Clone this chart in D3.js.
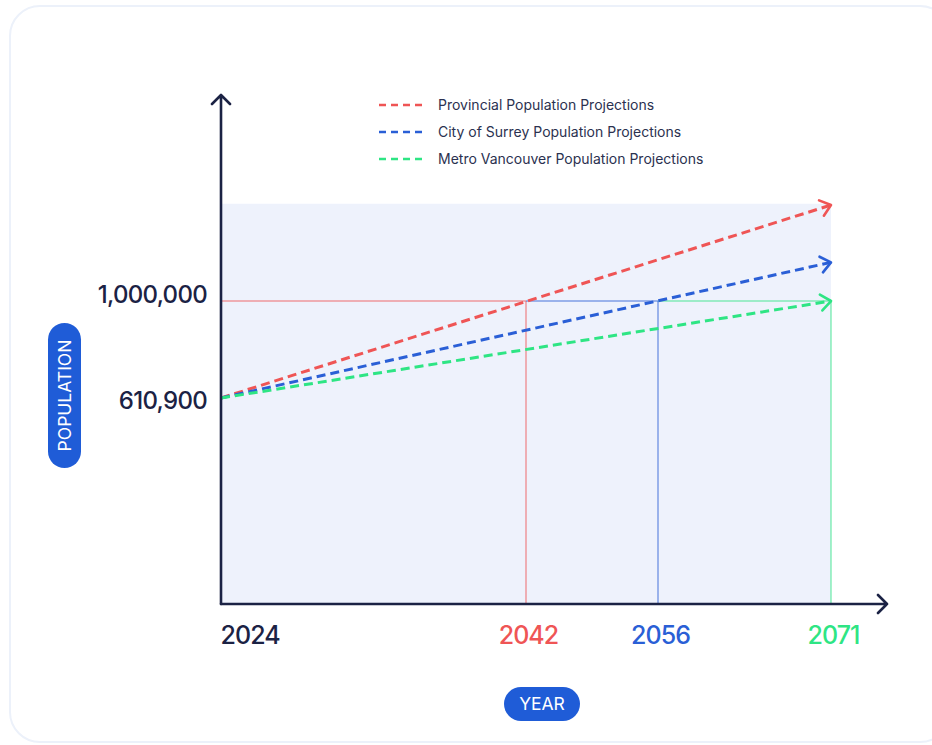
<!DOCTYPE html>
<html>
<head>
<meta charset="utf-8">
<script src="https://cdn.jsdelivr.net/npm/d3@7"></script>
<style>
  html, body { margin: 0; padding: 0; background: #fff; }
  svg { display: block; font-family: Inter, "Noto Sans", sans-serif; }
</style>
</head>
<body>
<svg id="chart" width="932" height="745"></svg>
<script>
// data
const seriesNames = ["Provincial Population Projections", "City of Surrey Population Projections", "Metro Vancouver Population Projections"];
const seriesColors = ["#ef5555", "#2a5fd6", "#2ee584"];
const startYear = 2024;
const endYear = 2071;
const startPop = 610900;
const endPop = [1385000, 1155000, 1000000];
const targetPop = 1000000;
const targetYears = [2042, 2056, 2071];   // year each series reaches 1,000,000
const shadeTop = 1390000;

const ink = "#1b2244";
const pillBlue = "#1f5cd7";

const svg = d3.select("#chart");

// card behind everything
svg.append("rect")
  .attr("x", 10).attr("y", 6)
  .attr("width", 940).attr("height", 736)
  .attr("rx", 30)
  .attr("fill", "#fff")
  .attr("stroke", "#ecf1fa")
  .attr("stroke-width", 2);

// scales -- the original is hand drawn, so both are piecewise
const x = d3.scaleLinear()
  .domain([startYear, ...targetYears])
  .range([221, 526, 658, 831]);
const y = d3.scaleLinear()
  .domain([0, startPop, targetPop])
  .range([604, 398, 301]);

// shaded area
svg.append("rect")
  .attr("x", x(startYear))
  .attr("y", y(shadeTop))
  .attr("width", x(endYear) - x(startYear))
  .attr("height", y(0) - y(shadeTop))
  .attr("fill", "#eef2fc");

// thin guide lines: horizontal at 1,000,000 then down to the year
let prevX = x(startYear);
targetYears.forEach((yr, i) => {
  const g = svg.append("g").attr("stroke", seriesColors[i]).attr("stroke-width", 1).attr("opacity", 0.85);
  g.append("line")
    .attr("x1", prevX).attr("x2", x(yr))
    .attr("y1", y(targetPop)).attr("y2", y(targetPop));
  g.append("line")
    .attr("x1", x(yr)).attr("x2", x(yr))
    .attr("y1", y(targetPop)).attr("y2", y(0));
  prevX = x(yr);
});

// arrow markers, one per colour
const defs = svg.append("defs");
seriesColors.forEach((c, i) => {
  defs.append("marker")
    .attr("id", "arrow" + i)
    .attr("viewBox", "-14 -10 16 20")
    .attr("refX", 0).attr("refY", 0)
    .attr("markerWidth", 16).attr("markerHeight", 20)
    .attr("markerUnits", "userSpaceOnUse")
    .attr("orient", "auto")
    .append("path")
    .attr("d", "M-10,-8L0,0L-10,8")
    .attr("fill", "none")
    .attr("stroke", c)
    .attr("stroke-width", 2.6)
    .attr("stroke-linecap", "round")
    .attr("stroke-linejoin", "round");
});

// projection lines
const line = d3.line().x(d => x(d[0])).y(d => y(d[1]));
endPop.forEach((v, i) => {
  svg.append("path")
    .datum([[startYear, startPop], [endYear, v]])
    .attr("d", line)
    .attr("fill", "none")
    .attr("stroke", seriesColors[i])
    .attr("stroke-width", 3)
    .attr("stroke-dasharray", "9,5")
    .attr("marker-end", "url(#arrow" + i + ")");
});

// axes lines with arrows
const axisG = svg.append("g")
  .attr("stroke", ink).attr("stroke-width", 2.6)
  .attr("fill", "none")
  .attr("stroke-linecap", "round").attr("stroke-linejoin", "round");
axisG.append("path")
  .attr("d", `M${x(startYear)},${y(0)}V95M${x(startYear) - 9},104L${x(startYear)},95L${x(startYear) + 9},104`);
axisG.append("path")
  .attr("d", `M${x(startYear)},${y(0)}H887M878,${y(0) - 9}L887,${y(0)}L878,${y(0) + 9}`);

// y tick labels
const yAxis = svg.append("g")
  .attr("transform", `translate(${x(startYear)},0)`)
  .call(d3.axisLeft(y).tickValues([startPop, targetPop]).tickFormat(d3.format(",")).tickSize(0).tickPadding(14));
yAxis.select(".domain").remove();
yAxis.selectAll("text")
  .attr("font-size", 24)
  .attr("font-weight", 450)
  .attr("letter-spacing", -0.7)
  .attr("fill", ink)
  .attr("font-family", "Inter, sans-serif")
  .attr("dy", d => d === targetPop ? "0.05em" : "0.42em");

// x tick labels
const xColors = [ink, ...seriesColors];
const xAxis = svg.append("g")
  .attr("transform", `translate(0,${y(0)})`)
  .call(d3.axisBottom(x).tickValues([startYear, ...targetYears]).tickFormat(d3.format("d")).tickSize(0).tickPadding(22));
xAxis.select(".domain").remove();
xAxis.selectAll("text")
  .attr("font-size", 25)
  .attr("font-weight", 500)
  .attr("letter-spacing", -0.9)
  .attr("font-family", "Inter, sans-serif")
  .attr("fill", (d, i) => xColors[i])
  .attr("text-anchor", (d, i) => i === 0 ? "start" : "middle")
  .attr("dx", (d, i) => i === 0 ? -1 : 2);

// legend
const legend = svg.append("g").attr("transform", "translate(379,105)");
seriesNames.forEach((name, i) => {
  const row = legend.append("g").attr("transform", `translate(0,${i * 27})`);
  row.append("line")
    .attr("x1", 0).attr("x2", 45)
    .attr("stroke", seriesColors[i])
    .attr("stroke-width", 2.4)
    .attr("stroke-dasharray", "7,5");
  row.append("text")
    .attr("x", 59).attr("dy", "0.35em")
    .attr("font-size", 14)
    .attr("fill", "#2b3150")
    .text(name);
});

// axis title pills
const popPill = svg.append("g").attr("transform", "translate(64.5,395.5)");
popPill.append("rect")
  .attr("x", -16.5).attr("y", -72.5)
  .attr("width", 33).attr("height", 145)
  .attr("rx", 16.5)
  .attr("fill", pillBlue);
popPill.append("text")
  .attr("transform", "rotate(-90)")
  .attr("text-anchor", "middle")
  .attr("dy", "0.36em")
  .attr("font-size", 17.5)
  .attr("fill", "#fff")
  .text("POPULATION");

const yearPill = svg.append("g").attr("transform", "translate(542,704)");
yearPill.append("rect")
  .attr("x", -38).attr("y", -17)
  .attr("width", 76).attr("height", 34)
  .attr("rx", 17)
  .attr("fill", pillBlue);
yearPill.append("text")
  .attr("text-anchor", "middle")
  .attr("dy", "0.36em")
  .attr("font-size", 17.5)
  .attr("fill", "#fff")
  .text("YEAR");
</script>
</body>
</html>
